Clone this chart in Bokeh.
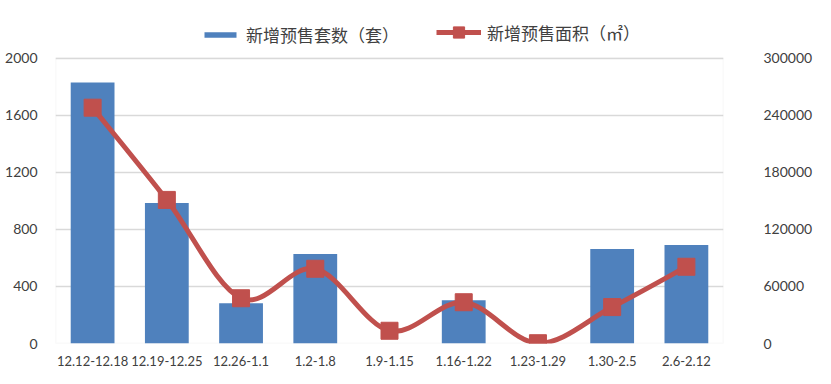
import numpy as np
from bokeh.plotting import figure
from bokeh.models import (Range1d, LinearAxis, FixedTicker, Legend, LegendItem,
                          ColumnDataSource, BasicTickFormatter, BoxAnnotation)
from bokeh.embed import file_html
from bokeh.resources import INLINE

categories = ["12.12-12.18", "12.19-12.25", "12.26-1.1", "1.2-1.8", "1.9-1.15",
              "1.16-1.22", "1.23-1.29", "1.30-2.5", "2.6-2.12"]
units = [1830, 985, 283, 628, 0, 303, 0, 662, 690]
area = [248000, 151000, 47600, 78600, 13400, 43400, 300, 38300, 80700]
left_ticks = [0, 400, 800, 1200, 1600, 2000]
right_ticks = [0, 60000, 120000, 180000, 240000, 300000]
name_units = "新增预售套数（套）"
name_area = "新增预售面积（㎡）"

BLUE = "#4F81BD"
RED = "#C0504D"
TXT = "#404040"
GRID = "#D9D9D9"
FONT = "Lato"
CJK = "Noto Sans CJK SC"

n = len(categories)
xs = np.arange(n) + 0.5

# layout (pixels): frame extends up to hold the legend; the plot area proper
# starts at PLOT_TOP
W, H = 815, 368
TOP, PLOT_TOP, BOTTOM = 15, 58, 345
scale = (BOTTOM - TOP) / (BOTTOM - PLOT_TOP)
lmax, rmax = left_ticks[-1], right_ticks[-1]

p = figure(width=W, height=H, output_backend="svg", toolbar_location=None,
           x_range=Range1d(0, n), y_range=Range1d(0, lmax * scale),
           min_border_left=55, min_border_right=77, min_border_bottom=H - BOTTOM,
           min_border_top=TOP, background_fill_color="white",
           border_fill_color="white")
p.extra_y_ranges = {"area": Range1d(0, rmax * scale)}

src = ColumnDataSource(dict(x=xs, units=units, area=area))
bars = p.vbar(x="x", top="units", width=0.59, source=src, fill_color=BLUE,
              line_color=None)

# smoothed curve (Catmull-Rom -> cubic Bezier), computed from the data
ax = np.array(xs, dtype=float)
ay = np.array(area, dtype=float)
px = np.concatenate([[ax[0]], ax, [ax[-1]]])
py = np.concatenate([[ay[0]], ay, [ay[-1]]])
bx0, by0, bx1, by1, c0x, c0y, c1x, c1y = [], [], [], [], [], [], [], []
for i in range(n - 1):
    p0x, p0y = px[i], py[i]
    p1x, p1y = px[i + 1], py[i + 1]
    p2x, p2y = px[i + 2], py[i + 2]
    p3x, p3y = px[i + 3], py[i + 3]
    bx0.append(p1x); by0.append(p1y)
    bx1.append(p2x); by1.append(p2y)
    c0x.append(p1x + (p2x - p0x) / 6); c0y.append(p1y + (p2y - p0y) / 6)
    c1x.append(p2x - (p3x - p1x) / 6); c1y.append(p2y - (p3y - p1y) / 6)
curve = p.bezier(x0=bx0, y0=by0, x1=bx1, y1=by1, cx0=c0x, cy0=c0y, cx1=c1x,
                 cy1=c1y, line_color=RED, line_width=5, y_range_name="area")
marks = p.scatter(x="x", y="area", source=src, marker="square", size=17,
                  fill_color=RED, line_color=RED, y_range_name="area")

# plot-area border
p.add_layout(BoxAnnotation(left=0, right=n, bottom=0, top=lmax, fill_alpha=0,
                           line_color=GRID, line_width=1.5, level="underlay"))

# axes
p.xaxis.ticker = FixedTicker(ticks=list(xs))
p.xaxis.major_label_overrides = {float(x): c for x, c in zip(xs, categories)}
p.yaxis.ticker = FixedTicker(ticks=left_ticks)
right = LinearAxis(y_range_name="area", ticker=FixedTicker(ticks=right_ticks),
                   formatter=BasicTickFormatter(use_scientific=False))
p.add_layout(right, "right")

for a in [p.xaxis[0], p.yaxis[0], right]:
    a.axis_line_color = None
    a.major_tick_line_color = None
    a.minor_tick_line_color = None
    a.major_label_text_font = FONT
    a.major_label_text_font_size = "14px"
    a.major_label_text_color = TXT
p.xaxis.major_label_text_font_size = "13px"
p.xaxis.major_label_standoff = 6
p.yaxis[0].major_label_standoff = 12
right.major_label_standoff = 34

p.xgrid.grid_line_color = None
p.ygrid.grid_line_color = GRID
p.ygrid.grid_line_width = 1.5
p.ygrid.ticker = FixedTicker(ticks=left_ticks)
p.outline_line_color = None

common = dict(orientation="horizontal", padding=2, margin=0,
              label_text_font=CJK, label_text_font_size="17px",
              label_text_color=TXT, border_line_color=None,
              background_fill_alpha=0, label_standoff=6)
leg1 = Legend(items=[LegendItem(label=name_units, renderers=[bars])],
              location=(145, 296), glyph_width=40, glyph_height=7, **common)
leg2 = Legend(items=[LegendItem(label=name_area, renderers=[curve, marks])],
              location=(381, 297), glyph_width=45, glyph_height=28, **common)
p.add_layout(leg1, "center")
p.add_layout(leg2, "center")

open("out.html", "w").write(file_html(p, INLINE))
